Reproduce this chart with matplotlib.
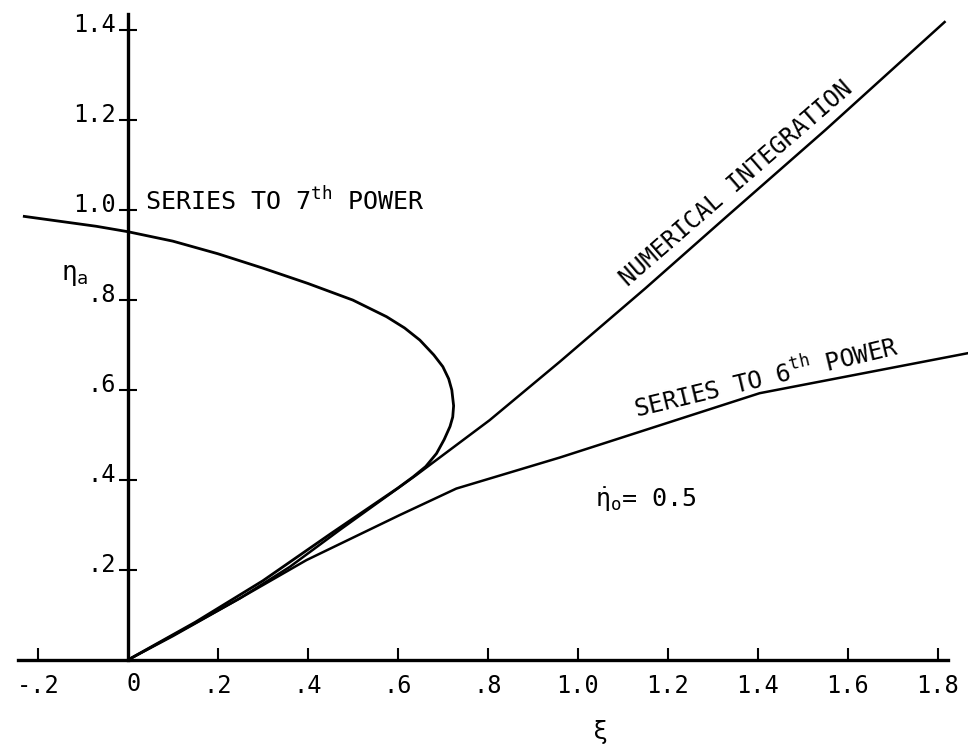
import matplotlib
matplotlib.use("Agg")
import matplotlib.pyplot as plt
import matplotlib.transforms as mtransforms

# fontes tipo maquina de escrever
plt.rcParams['font.family'] = ['DejaVu Sans Mono', 'DejaVu Sans']
plt.rcParams['mathtext.fontset'] = 'custom'
plt.rcParams['mathtext.rm'] = 'DejaVu Sans Mono'
plt.rcParams['mathtext.it'] = 'DejaVu Sans Mono'

# dados
num_x = [0.0, 0.10, 0.249, 0.36, 0.471, 0.641, 0.804, 0.96, 1.15, 1.33, 1.55, 1.815]
num_y = [0.0, 0.053, 0.137, 0.207, 0.289, 0.411, 0.533, 0.663, 0.826, 0.985, 1.178, 1.418]

s7_x = [-0.23, -0.15, -0.07, 0.0, 0.1, 0.2, 0.3, 0.4, 0.5, 0.575, 0.615, 0.649, 0.68, 0.700,
        0.713, 0.720, 0.724, 0.722, 0.716, 0.703, 0.686, 0.662, 0.634, 0.60, 0.45, 0.30, 0.15, 0.0]
s7_y = [0.986, 0.975, 0.964, 0.952, 0.931, 0.903, 0.871, 0.837, 0.800, 0.763, 0.738, 0.711,
        0.678, 0.652, 0.625, 0.600, 0.565, 0.540, 0.519, 0.490, 0.459, 0.430, 0.407, 0.382,
        0.280, 0.176, 0.084, 0.0]

s6_x = [0.0, 0.15, 0.249, 0.397, 0.604, 0.73, 0.96, 1.404, 1.867]
s6_y = [0.0, 0.082, 0.137, 0.222, 0.322, 0.381, 0.450, 0.593, 0.682]

x_ticks = [-0.2, 0.2, 0.4, 0.6, 0.8, 1.0, 1.2, 1.4, 1.6, 1.8]
x_labels = ['-.2', '.2', '.4', '.6', '.8', '1.0', '1.2', '1.4', '1.6', '1.8']
y_ticks = [0.2, 0.4, 0.6, 0.8, 1.0, 1.2, 1.4]
y_labels = ['.2', '.4', '.6', '.8', '1.0', '1.2', '1.4']

fig = plt.figure(figsize=(9.68, 7.45), dpi=100)
ax = fig.add_axes([0, 0, 1, 1])

ax.plot(num_x, num_y, color='black', lw=1.8)
ax.plot(s7_x, s7_y, color='black', lw=2.0)
ax.plot(s6_x, s6_y, color='black', lw=1.8)

ax.set_xlim(-0.284, 1.867)
ax.set_ylim(-0.189, 1.467)

# eixos passando pela origem
for s in ['top', 'right']:
    ax.spines[s].set_visible(False)
ax.spines['left'].set_position(('data', 0))
ax.spines['bottom'].set_position(('data', 0))
ax.spines['left'].set_bounds(0, 1.435)
ax.spines['bottom'].set_bounds(-0.244, 1.822)
ax.spines['left'].set_linewidth(2.4)
ax.spines['bottom'].set_linewidth(2.4)

ax.set_xticks(x_ticks)
ax.set_xticklabels(x_labels)
ax.set_yticks(y_ticks)
ax.set_yticklabels(y_labels)
ax.tick_params(axis='x', direction='in', length=9, width=1.5, labelsize=17, pad=10)
ax.tick_params(axis='y', direction='inout', length=13, width=1.5, labelsize=17, pad=2)
# rotulos do eixo y um pouco acima dos tracos
desloc = mtransforms.ScaledTranslation(0, 5 / 100, fig.dpi_scale_trans)
for lab in ax.get_yticklabels():
    lab.set_verticalalignment('center')
    lab.set_transform(lab.get_transform() + desloc)

# "0" da origem
ax.text(0.013, -0.026, '0', ha='center', va='top', fontsize=17)

# legendas
ax.text(-0.118, 0.856, r'$\eta_a$', ha='center', va='center', fontsize=19)
ax.text(1.049, -0.16, r'$\xi$', ha='center', va='center', fontsize=18)

ax.text(0.038, 1.02, r'SERIES TO 7$^{\mathrm{th}}$ POWER', ha='left', va='center', fontsize=18)
ax.text(1.353, 1.06, 'NUMERICAL INTEGRATION', ha='center', va='center',
        fontsize=17, rotation=41, rotation_mode='anchor')
ax.text(1.418, 0.627, r'SERIES TO 6$^{\mathrm{th}}$ POWER', ha='center', va='center',
        fontsize=17.5, rotation=13.5, rotation_mode='anchor')
ax.text(1.038, 0.356, r'$\dot{\eta}_o$= 0.5', ha='left', va='center', fontsize=18)

plt.savefig('out.png', dpi=100)
